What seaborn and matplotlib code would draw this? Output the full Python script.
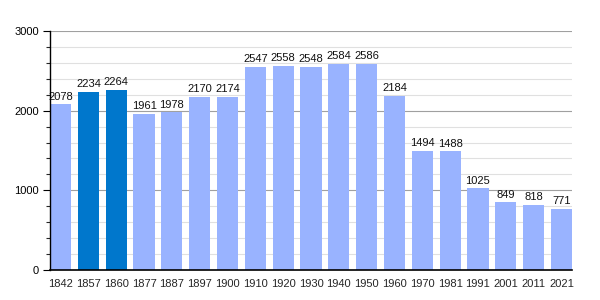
import matplotlib
matplotlib.use("Agg")
import matplotlib.pyplot as plt
import seaborn as sns
import pandas as pd
from matplotlib.ticker import MultipleLocator

years = ["1842", "1857", "1860", "1877", "1887", "1897", "1900", "1910", "1920", "1930",
         "1940", "1950", "1960", "1970", "1981", "1991", "2001", "2011", "2021"]
population = [2078, 2234, 2264, 1961, 1978, 2170, 2174, 2547, 2558, 2548,
              2584, 2586, 2184, 1494, 1488, 1025, 849, 818, 771]
highlight = ["1857", "1860"]

light = "#99b3ff"
dark = "#0077cc"

df = pd.DataFrame({"year": years, "pop": population})
df["kind"] = ["h" if y in highlight else "n" for y in years]

sns.set_style("white")
plt.rcParams["font.family"] = ["Liberation Sans", "DejaVu Sans"]

fig = plt.figure(figsize=(6, 3), dpi=100)
ax = fig.add_axes([50/600, 30/300, 522/600, 239/300])

sns.barplot(data=df, x="year", y="pop", hue="kind", palette={"h": dark, "n": light},
            width=0.76, dodge=False, legend=False, ax=ax, saturation=1,
            edgecolor="none", linewidth=0, zorder=3)

for i, v in enumerate(population):
    ax.text(i, v + 35, str(v), ha="center", va="bottom", fontsize=8, color="#111111", zorder=4)

ax.set_xlim(-0.38, len(years) - 1 + 0.38)
ax.set_ylim(0, 3000)
ax.yaxis.set_major_locator(MultipleLocator(1000))
ax.yaxis.set_minor_locator(MultipleLocator(200))
ax.grid(which="major", axis="y", color="#a0a0a0", linewidth=0.8, zorder=0)
ax.grid(which="minor", axis="y", color="#e0e0e0", linewidth=0.8, zorder=0)
ax.grid(which="both", axis="x", visible=False)
ax.set_axisbelow(True)

for s in ["top", "right"]:
    ax.spines[s].set_visible(False)
for s in ["left", "bottom"]:
    ax.spines[s].set_color("black")
    ax.spines[s].set_zorder(6)
ax.spines["left"].set_linewidth(1)
ax.spines["bottom"].set_linewidth(1.2)

ax.tick_params(axis="y", which="major", left=True, length=5, width=0.8, labelsize=8, pad=3, colors="black")
ax.tick_params(axis="y", which="minor", left=True, length=3, width=0.8)
ax.tick_params(axis="x", which="both", bottom=False, top=False, labelsize=8, pad=3)
ax.xaxis.set_minor_locator(matplotlib.ticker.NullLocator())
ax.set_xlabel("")
ax.set_ylabel("")

fig.savefig("out.png", dpi=100)
